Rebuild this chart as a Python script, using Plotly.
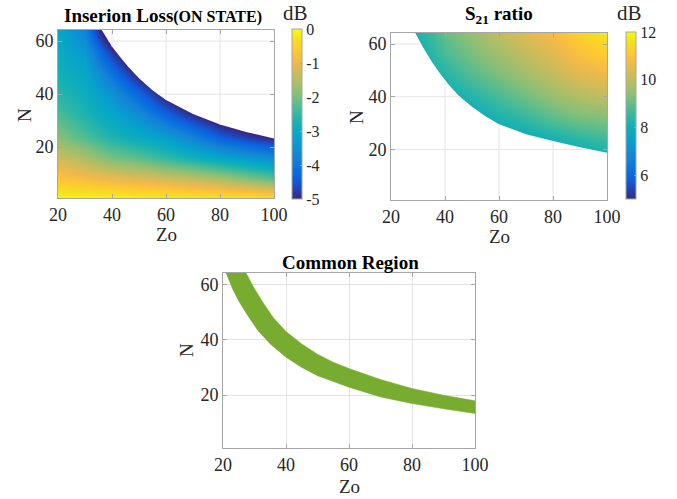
import numpy as np
import plotly.graph_objects as go

W, H = 677, 499

# ---------------- data ----------------
ZO = [20, 30, 40, 50, 60, 70, 80, 90, 100]
N_GRID = [0, 8, 16, 24, 32, 40, 48, 56, 64]

# Insertion loss (dB), rows = N_GRID, cols = ZO
IL_DB = [
    [0.0, 0.0, 0.0, -0.05, -0.05, -0.1, -0.1, -0.1, -0.15],
    [-0.7, -0.85, -1.0, -1.1, -1.25, -1.4, -1.6, -1.9, -2.2],
    [-1.3, -1.6, -2.0, -2.2, -2.5, -2.8, -3.1, -3.35, -3.6],
    [-1.9, -2.3, -2.7, -3.0, -3.3, -3.8, -4.4, -4.8, -5.1],
    [-2.3, -2.7, -3.1, -3.6, -4.3, -4.95, -5.5, -6.0, -6.5],
    [-2.6, -2.9, -3.5, -4.3, -5.2, -6.0, -6.5, -7.0, -7.0],
    [-2.8, -3.1, -4.1, -5.2, -6.0, -6.5, -7.0, -7.0, -7.0],
    [-2.95, -3.4, -4.85, -6.0, -6.5, -7.0, -7.0, -7.0, -7.0],
    [-3.1, -3.8, -6.0, -6.5, -7.0, -7.0, -7.0, -7.0, -7.0],
]
# limit curve of the insertion-loss region (region lies below it)
IL_BOUND_ZO = [36.2, 38, 40, 43, 46, 50, 55, 60, 65, 70, 80, 90, 100]
IL_BOUND_N = [64.2, 61.0, 58.0, 54.0, 50.3, 46.0, 41.5, 37.8, 35.0, 32.5, 28.5, 25.6, 23.3]

# S21 ratio (dB), rows = N_GRID, cols = ZO
S21_DB = [
    [7.0, 7.0, 7.0, 7.0, 7.0, 7.2, 7.4, 7.5, 7.6],
    [7.0, 7.0, 7.0, 7.0, 7.2, 7.4, 7.6, 7.7, 7.7],
    [7.0, 7.0, 7.1, 7.3, 7.5, 7.6, 7.7, 7.8, 7.9],
    [7.0, 7.1, 7.3, 7.5, 7.7, 7.9, 8.1, 8.4, 8.6],
    [7.1, 7.3, 7.5, 7.8, 8.2, 8.5, 8.9, 9.2, 9.3],
    [7.2, 7.5, 7.9, 8.3, 8.7, 9.1, 9.5, 9.8, 10.0],
    [7.4, 7.8, 8.3, 8.8, 9.2, 9.6, 10.0, 10.4, 10.6],
    [7.6, 8.0, 8.7, 9.2, 9.6, 10.0, 10.4, 10.9, 11.2],
    [7.8, 8.2, 9.0, 9.5, 10.0, 10.4, 10.8, 11.3, 11.7],
]
# limit curve of the S21 region (region lies above it)
S21_BOUND_ZO = [29, 32, 35, 38, 41, 45, 50, 55, 60, 70, 80, 90, 100]
S21_BOUND_N = [64.2, 58.5, 53.5, 49.0, 45.0, 40.5, 36.2, 32.6, 29.6, 25.8, 23.2, 20.8, 18.7]

# common region band
CR_UPPER_ZO = [27.3, 30, 33, 36, 40, 45, 50, 55, 60, 70, 80, 90, 100]
CR_UPPER_N = [64.2, 58.5, 53.0, 48.0, 43.0, 38.5, 34.8, 31.9, 29.6, 25.6, 22.4, 19.9, 17.9]
CR_LOWER_ZO = [21, 23, 25, 28, 31, 35, 40, 45, 50, 60, 70, 80, 90, 100]
CR_LOWER_N = [64.2, 58.5, 54.0, 48.5, 43.5, 38.5, 33.7, 30.0, 27.0, 22.8, 19.3, 16.9, 15.0, 13.3]

X_TICKS = [20, 40, 60, 80, 100]
Y_TICKS = [20, 40, 60]
IL_TICKS = [0, -1, -2, -3, -4, -5]
S21_TICKS = [6, 8, 10, 12]

# ---------------- styling ----------------
PARULA_RGB = [
    (0.2081, 0.1663, 0.5292), (0.0591, 0.3598, 0.8683), (0.0329, 0.4430, 0.8720),
    (0.0779, 0.5040, 0.8384), (0.0488, 0.5772, 0.8228), (0.0231, 0.6418, 0.7913),
    (0.0590, 0.6838, 0.7254), (0.1801, 0.7177, 0.6424), (0.3482, 0.7424, 0.5473),
    (0.5300, 0.7491, 0.4661), (0.6834, 0.7435, 0.4044), (0.8185, 0.7327, 0.3498),
    (0.9450, 0.7261, 0.2886), (0.9955, 0.7861, 0.1967), (0.9626, 0.8705, 0.1309),
    (0.9763, 0.9831, 0.0538),
]
PARULA_IDX = [0, 7, 11, 15, 19, 23, 27, 31, 35, 39, 43, 47, 51, 55, 59, 63]
PARULA = [[i / 63, "rgb(%d,%d,%d)" % tuple(int(round(c * 255)) for c in rgb)]
          for i, rgb in zip(PARULA_IDX, PARULA_RGB)]

FONT = "Liberation Serif"
TXT = "#262626"
GRID = "#e4e4e4"
BOX = "#a6a6a6"
YR = [0.8, 64.2]
XR = [20, 100]


def fx(x):
    return x / W


def fy(y):
    return 1 - y / H


fig = go.Figure()

# ---------- subplot 1: insertion loss ----------
fig.add_trace(go.Heatmap(
    x=ZO, y=N_GRID, z=IL_DB, zmin=-5, zmax=0, zsmooth="best",
    colorscale=PARULA, xaxis="x", yaxis="y", hoverinfo="skip",
    colorbar=dict(x=fx(292), xanchor="left", xpad=0, y=fy(29), yanchor="top", ypad=0,
                  len=170 / H, lenmode="fraction", thickness=10, thicknessmode="pixels",
                  outlinewidth=1, outlinecolor=BOX, ticks="inside", ticklen=2, tickcolor=BOX,
                  tickvals=IL_TICKS, ticktext=[str(v) for v in IL_TICKS],
                  tickfont=dict(family=FONT, size=16, color=TXT)),
))
fig.add_trace(go.Scatter(
    x=IL_BOUND_ZO + [102, 102, IL_BOUND_ZO[0]],
    y=IL_BOUND_N + [IL_BOUND_N[-1], 70, 70],
    fill="toself", fillcolor="white", mode="lines", line=dict(width=0),
    xaxis="x", yaxis="y", hoverinfo="skip", showlegend=False))
bz, bn = np.array(IL_BOUND_ZO), np.array(IL_BOUND_N)
gx, gy = [], []
for g in [40, 60, 80]:
    gx += [g, g, None]
    gy += [float(np.interp(g, bz, bn)), YR[1], None]
for g in [40, 60]:
    gx += [float(np.interp(g, bn[::-1], bz[::-1])), XR[1], None]
    gy += [g, g, None]
fig.add_trace(go.Scatter(x=gx, y=gy, mode="lines", line=dict(color=GRID, width=1),
                         xaxis="x", yaxis="y", hoverinfo="skip", showlegend=False))

# ---------- subplot 2: S21 ratio ----------
fig.add_trace(go.Heatmap(
    x=ZO, y=N_GRID, z=S21_DB, zmin=5, zmax=12, zsmooth="best",
    colorscale=PARULA, xaxis="x2", yaxis="y2", hoverinfo="skip",
    colorbar=dict(x=fx(626), xanchor="left", xpad=0, y=fy(32), yanchor="top", ypad=0,
                  len=167 / H, lenmode="fraction", thickness=10, thicknessmode="pixels",
                  outlinewidth=1, outlinecolor=BOX, ticks="inside", ticklen=2, tickcolor=BOX,
                  tickvals=S21_TICKS, ticktext=[str(v) for v in S21_TICKS],
                  tickfont=dict(family=FONT, size=16, color=TXT)),
))
fig.add_trace(go.Scatter(
    x=S21_BOUND_ZO + [102, 102, 18, 18, S21_BOUND_ZO[0]],
    y=S21_BOUND_N + [S21_BOUND_N[-1], -2, -2, 70, 70],
    fill="toself", fillcolor="white", mode="lines", line=dict(width=0),
    xaxis="x2", yaxis="y2", hoverinfo="skip", showlegend=False))
sz, sn = np.array(S21_BOUND_ZO), np.array(S21_BOUND_N)
gx, gy = [], []
for g in [40, 60, 80]:
    gx += [g, g, None]
    gy += [YR[0], float(np.interp(g, sz, sn)), None]
for g in [20, 40, 60]:
    gx += [XR[0], float(np.interp(g, sn[::-1], sz[::-1])), None]
    gy += [g, g, None]
fig.add_trace(go.Scatter(x=gx, y=gy, mode="lines", line=dict(color=GRID, width=1),
                         xaxis="x2", yaxis="y2", hoverinfo="skip", showlegend=False))

# ---------- subplot 3: common region ----------
fig.add_trace(go.Scatter(
    x=CR_UPPER_ZO + CR_LOWER_ZO[::-1] + [CR_UPPER_ZO[0]],
    y=CR_UPPER_N + CR_LOWER_N[::-1] + [CR_UPPER_N[0]],
    fill="toself", fillcolor="#77ac30", mode="lines", line=dict(width=0.5, color="#77ac30"),
    xaxis="x3", yaxis="y3", hoverinfo="skip", showlegend=False))


def xax(dom, anchor):
    return dict(domain=dom, anchor=anchor, range=XR, tickvals=X_TICKS, showgrid=True,
                gridcolor=GRID, gridwidth=1, zeroline=False, showline=True, linecolor=BOX,
                linewidth=1, mirror="allticks", ticks="inside", ticklen=4, tickcolor=BOX,
                automargin=False,
                tickfont=dict(family=FONT, size=18, color=TXT), layer="above traces")


def yax(dom, anchor):
    return dict(domain=dom, anchor=anchor, range=YR, tickvals=Y_TICKS, showgrid=True,
                gridcolor=GRID, gridwidth=1, zeroline=False, showline=True, linecolor=BOX,
                linewidth=1, mirror="allticks", ticks="inside", ticklen=4, tickcolor=BOX,
                automargin=False,
                tickfont=dict(family=FONT, size=18, color=TXT), layer="above traces")


fig.update_layout(
    template="none",
    width=W, height=H, margin=dict(l=0, r=0, t=0, b=0, pad=0), autosize=False,
    paper_bgcolor="white", plot_bgcolor="white", showlegend=False,
    font=dict(family=FONT, color=TXT),
    xaxis=xax([fx(58), fx(274)], "y"), yaxis=yax([fy(198), fy(30)], "x"),
    xaxis2=xax([fx(391), fx(607)], "y2"), yaxis2=yax([fy(200), fy(33)], "x2"),
    xaxis3=xax([fx(223), fx(475)], "y3"), yaxis3=yax([fy(448), fy(273)], "x3"),
)


def ann(text, x, y, size, angle=0, color="black"):
    fig.add_annotation(text=text, x=fx(x), y=fy(y), xref="paper", yref="paper",
                       xanchor="center", yanchor="middle", showarrow=False, textangle=angle,
                       font=dict(family=FONT, size=size, color=color))


ann("<b>Inserion Loss</b><b><span style='font-size:16px'>(ON STATE)</span></b>", 163, 15, 19)
ann("<b>S<sub>21</sub> ratio</b>", 499, 15, 19)
ann("<b>Common Region</b>", 350, 262, 19)
ann("dB", 295, 13, 21, color=TXT)
ann("dB", 629, 13, 21, color=TXT)
ann("N", 24, 115, 19, angle=-90, color=TXT)
ann("N", 356, 117, 19, angle=-90, color=TXT)
ann("N", 186, 350, 19, angle=-90, color=TXT)
ann("Zo", 166, 234, 19, color=TXT)
ann("Zo", 499, 237, 19, color=TXT)
ann("Zo", 349, 486, 19, color=TXT)

# the page's default 8px body margin would shift the figure; remove it
fig.write_html("out.html", config={"displayModeBar": False},
               post_script="document.body.style.margin='0px';")
